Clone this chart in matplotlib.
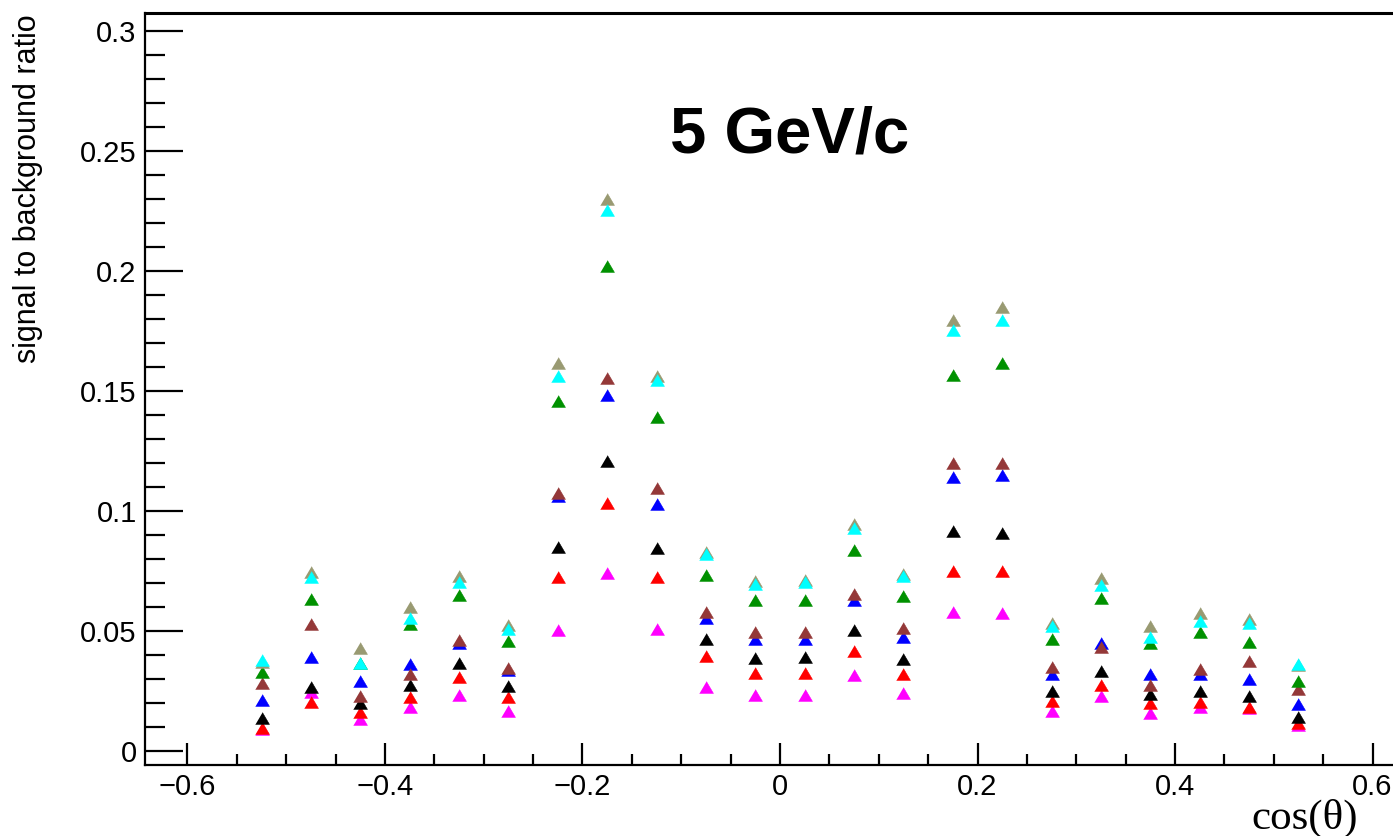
import numpy as np
import matplotlib
matplotlib.use("Agg")
import matplotlib.pyplot as plt
from matplotlib.ticker import MultipleLocator

# bin centres in cos(theta)
cos_theta = [-0.525, -0.475, -0.425, -0.375, -0.325, -0.275, -0.225, -0.175, -0.125, -0.075, -0.025,
             0.025, 0.075, 0.125, 0.175, 0.225, 0.275, 0.325, 0.375, 0.425, 0.475, 0.525]

# signal to background ratio for each selection
sb_tan = [0.037, 0.0746, 0.0427, 0.0598, 0.0728, 0.0524, 0.1614, 0.2298, 0.1561, 0.0829, 0.0707,
          0.0711, 0.0945, 0.0736, 0.1792, 0.1847, 0.0533, 0.0718, 0.0521, 0.0575, 0.0548, 0.0355]
sb_cyan = [0.0378, 0.0722, 0.0364, 0.0554, 0.0702, 0.0507, 0.1561, 0.2253, 0.1545, 0.0820, 0.0695,
           0.0702, 0.0927, 0.0729, 0.1753, 0.1792, 0.0521, 0.0688, 0.0475, 0.0538, 0.0531, 0.0360]
sb_green = [0.0327, 0.0631, 0.0365, 0.0528, 0.0649, 0.0458, 0.1458, 0.2017, 0.1389, 0.0732, 0.0628,
            0.0628, 0.0836, 0.0645, 0.1565, 0.1614, 0.0465, 0.0635, 0.0448, 0.0493, 0.0454, 0.0292]
sb_brown = [0.0281, 0.0527, 0.0229, 0.0318, 0.0461, 0.0343, 0.1073, 0.1552, 0.1093, 0.0579, 0.0496,
            0.0496, 0.0652, 0.0510, 0.1198, 0.1198, 0.0350, 0.0433, 0.0274, 0.0340, 0.0374, 0.0256]
sb_blue = [0.0211, 0.0389, 0.0290, 0.0360, 0.0450, 0.0335, 0.1060, 0.1482, 0.1028, 0.0552, 0.0464,
           0.0467, 0.0628, 0.0473, 0.1138, 0.1149, 0.0320, 0.0448, 0.0318, 0.0320, 0.0298, 0.0193]
sb_black = [0.0135, 0.0267, 0.0198, 0.0274, 0.0364, 0.0271, 0.0850, 0.1207, 0.0843, 0.0464, 0.0385,
            0.0389, 0.0503, 0.0381, 0.0915, 0.0906, 0.0250, 0.0332, 0.0236, 0.0250, 0.0228, 0.0142]
sb_red = [0.0095, 0.0202, 0.0160, 0.0225, 0.0308, 0.0225, 0.0723, 0.1033, 0.0723, 0.0395, 0.0323,
          0.0323, 0.0417, 0.0320, 0.0749, 0.0749, 0.0208, 0.0274, 0.0197, 0.0202, 0.0183, 0.0114]
sb_magenta = [0.0090, 0.0245, 0.0132, 0.0181, 0.0232, 0.0163, 0.0503, 0.0739, 0.0507, 0.0267, 0.0232,
              0.0232, 0.0313, 0.0242, 0.0577, 0.0572, 0.0167, 0.0228, 0.0158, 0.0183, 0.0178, 0.0108]

# drawing order: first drawn ends up underneath
series = [
    (sb_magenta, "#ff00ff"),
    (sb_red, "#ff0000"),
    (sb_black, "#000000"),
    (sb_blue, "#0000ff"),
    (sb_brown, "#943838"),
    (sb_green, "#009100"),
    (sb_tan, "#999a72"),
    (sb_cyan, "#00ffff"),
]

plt.rcParams["font.family"] = ["Liberation Sans", "DejaVu Sans"]

W, H = 1393, 836
fig = plt.figure(figsize=(W / 100, H / 100), dpi=100)
# right edge of the frame runs past the picture, like the original crop
ax = fig.add_axes([145 / W, 71 / H, 1270 / W, 752 / H])

# ROOT-like full triangle, a bit wider than tall
tri = [(-1, -0.85), (1, -0.85), (0, 0.85)]
for vals, col in series:
    ax.plot(cos_theta, vals, linestyle="none", marker=tri, markersize=10,
            markerfacecolor=col, markeredgecolor=col, markeredgewidth=0.4, color=col)

ax.set_xlim(-0.643, 0.643)
ax.set_ylim(-0.006, 0.3073)

ax.xaxis.set_major_locator(MultipleLocator(0.2))
ax.xaxis.set_minor_locator(MultipleLocator(0.05))
ax.yaxis.set_major_locator(MultipleLocator(0.05))
ax.yaxis.set_minor_locator(MultipleLocator(0.01))
ax.xaxis.set_major_formatter(plt.FuncFormatter(lambda v, p: "0" if abs(v) < 1e-9 else f"{v:g}".replace("-", "\u2212")))
ax.yaxis.set_major_formatter(plt.FuncFormatter(lambda v, p: "0" if abs(v) < 1e-9 else f"{v:g}"))

ax.tick_params(axis="x", which="major", direction="in", length=15.8, width=1.6, labelsize=21, pad=6, top=False)
ax.tick_params(axis="x", which="minor", direction="in", length=8, width=1.6, top=False)
ax.tick_params(axis="y", which="major", direction="in", length=27.4, width=1.6, labelsize=21, pad=6, right=False)
ax.tick_params(axis="y", which="minor", direction="in", length=14.4, width=1.6, right=False)

ax.spines["left"].set_linewidth(1.6)
ax.spines["bottom"].set_linewidth(1.6)
ax.spines["top"].set_linewidth(2.2)
ax.spines["right"].set_visible(False)

fig.text(13 / W, 1 - 14 / H, "signal to background ratio", rotation=90,
         ha="left", va="top", fontsize=22)
fig.text(1358 / W, 1 - 829 / H, "cos(\u03b8)", ha="right", va="baseline",
         fontsize=31, family=["Liberation Serif", "DejaVu Serif"])
fig.text(790 / W, 1 - 152 / H, "5 GeV/c", ha="center", va="baseline",
         fontsize=47, fontweight="bold")

fig.savefig("out.png", dpi=100)
